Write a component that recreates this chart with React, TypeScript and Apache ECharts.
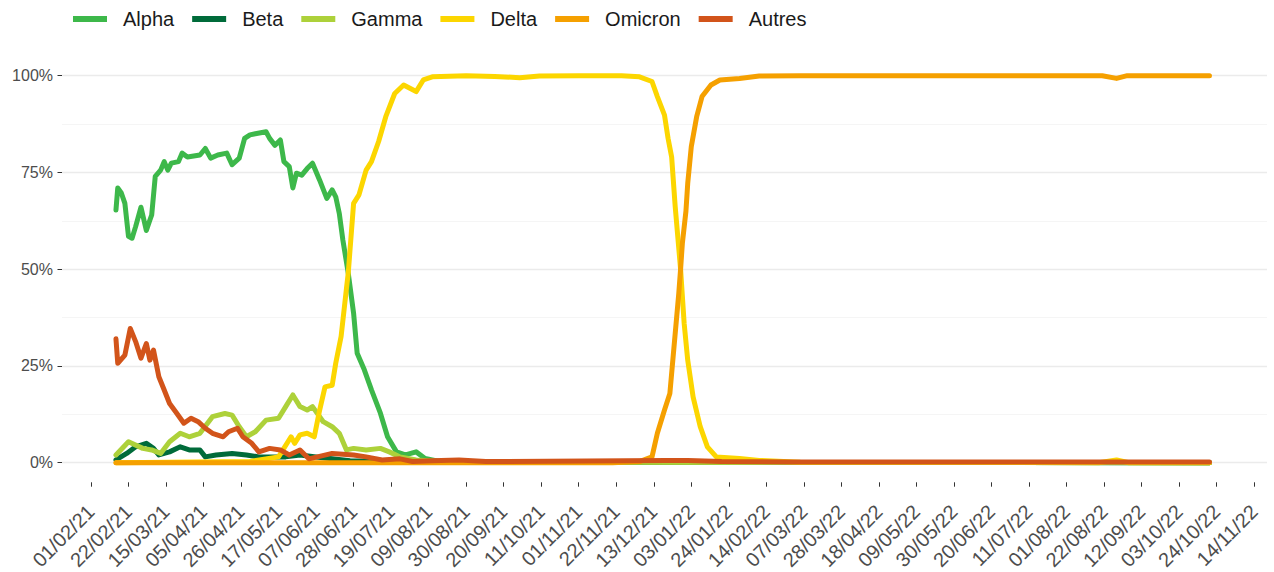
import React, { useEffect, useRef } from "react";
import * as echarts from "echarts";

// ---------- data ----------
const seriesNames = ["Alpha", "Beta", "Gamma", "Delta", "Omicron", "Autres"];
const seriesColors = ["#3DB84A", "#006B3A", "#ADD13A", "#FCD600", "#F5A000", "#D2541A"];

const tickLabels = [
  "01/02/21", "22/02/21", "15/03/21", "05/04/21", "26/04/21", "17/05/21", "07/06/21", "28/06/21",
  "19/07/21", "09/08/21", "30/08/21", "20/09/21", "11/10/21", "01/11/21", "22/11/21", "13/12/21",
  "03/01/22", "24/01/22", "14/02/22", "07/03/22", "28/03/22", "18/04/22", "09/05/22", "30/05/22",
  "20/06/22", "11/07/22", "01/08/22", "22/08/22", "12/09/22", "03/10/22", "24/10/22", "14/11/22",
];

const yTickValues = [0, 25, 50, 75, 100];

const alpha: [string, number][] = [
  ["2021-02-15", 65.3], ["2021-02-16", 71], ["2021-02-18", 69.7], ["2021-02-20", 67], ["2021-02-22", 58.5],
  ["2021-02-24", 58], ["2021-02-26", 61], ["2021-03-01", 66], ["2021-03-04", 60], ["2021-03-06", 62.7],
  ["2021-03-07", 64], ["2021-03-09", 74], ["2021-03-12", 75.6], ["2021-03-14", 77.8], ["2021-03-16", 75.6],
  ["2021-03-18", 77.4], ["2021-03-22", 77.8], ["2021-03-24", 80], ["2021-03-27", 79], ["2021-04-03", 79.5],
  ["2021-04-06", 81.2], ["2021-04-09", 78.7], ["2021-04-13", 79.5], ["2021-04-18", 80], ["2021-04-21", 77],
  ["2021-04-25", 78.7], ["2021-04-28", 83.8], ["2021-05-01", 84.7], ["2021-05-04", 85], ["2021-05-10", 85.5],
  ["2021-05-12", 83.8], ["2021-05-15", 82], ["2021-05-18", 83.4], ["2021-05-20", 77.8], ["2021-05-23", 76.5],
  ["2021-05-25", 71], ["2021-05-27", 74.8], ["2021-05-30", 74.3], ["2021-06-02", 76], ["2021-06-05", 77.4],
  ["2021-06-09", 73], ["2021-06-13", 68.3], ["2021-06-16", 70.5], ["2021-06-18", 68.7], ["2021-06-20", 64.4],
  ["2021-06-22", 57.5], ["2021-06-25", 49], ["2021-06-28", 38.6], ["2021-06-30", 28.3], ["2021-07-04", 24],
  ["2021-07-08", 18.8], ["2021-07-13", 12.8], ["2021-07-17", 6.7], ["2021-07-22", 2.8], ["2021-07-27", 2],
  ["2021-08-02", 2.8], ["2021-08-07", 1.1], ["2021-08-15", 0.3], ["2021-09-15", 0.1], ["2022-10-20", 0],
];

const beta: [string, number][] = [
  ["2021-02-15", 0.7], ["2021-02-21", 2.4], ["2021-02-26", 4.1], ["2021-03-04", 5], ["2021-03-08", 3.7],
  ["2021-03-11", 2], ["2021-03-17", 2.8], ["2021-03-23", 4.1], ["2021-03-28", 3.3], ["2021-04-03", 3.3],
  ["2021-04-06", 1.5], ["2021-04-12", 2], ["2021-04-21", 2.4], ["2021-04-29", 2], ["2021-05-06", 1.5],
  ["2021-05-21", 1.5], ["2021-05-29", 2], ["2021-06-07", 1.5], ["2021-06-16", 1], ["2021-06-26", 0.5],
  ["2021-07-13", 0.3], ["2021-08-03", 0.1], ["2022-10-20", 0],
];

const gamma: [string, number][] = [
  ["2021-02-15", 2], ["2021-02-22", 5.4], ["2021-03-02", 3.7], ["2021-03-07", 3.3], ["2021-03-12", 2.4],
  ["2021-03-17", 5.4], ["2021-03-23", 7.6], ["2021-03-28", 6.7], ["2021-04-03", 7.6], ["2021-04-10", 11.9],
  ["2021-04-17", 12.7], ["2021-04-21", 12.3], ["2021-04-25", 9.3], ["2021-04-29", 6.7], ["2021-05-04", 8],
  ["2021-05-10", 11], ["2021-05-17", 11.5], ["2021-05-21", 14.5], ["2021-05-25", 17.5], ["2021-05-29", 14.5],
  ["2021-06-02", 13.6], ["2021-06-05", 14.5], ["2021-06-11", 10.6], ["2021-06-16", 9.3], ["2021-06-20", 7.6],
  ["2021-06-24", 3.3], ["2021-06-28", 3.7], ["2021-07-05", 3.3], ["2021-07-13", 3.7], ["2021-07-18", 2.8],
  ["2021-07-24", 1.5], ["2021-08-02", 0.7], ["2021-08-15", 0.3], ["2021-10-01", 0.1], ["2022-10-20", 0],
];

const delta: [string, number][] = [
  ["2021-02-15", 0], ["2021-05-01", 0.3], ["2021-05-17", 1.5], ["2021-05-24", 6.7], ["2021-05-26", 5],
  ["2021-05-29", 7.2], ["2021-06-02", 7.6], ["2021-06-06", 6.7], ["2021-06-09", 13.6], ["2021-06-12", 19.6],
  ["2021-06-16", 20], ["2021-06-18", 25.7], ["2021-06-21", 32.6], ["2021-06-24", 45], ["2021-06-25", 49],
  ["2021-06-28", 67], ["2021-07-01", 69.2], ["2021-07-05", 75.6], ["2021-07-08", 77.8], ["2021-07-12", 83],
  ["2021-07-16", 89.4], ["2021-07-21", 95.4], ["2021-07-26", 97.6], ["2021-08-02", 95.9], ["2021-08-06", 98.9],
  ["2021-08-11", 99.7], ["2021-08-30", 100], ["2021-09-15", 99.8], ["2021-09-29", 99.5], ["2021-10-10", 99.9],
  ["2021-11-01", 100], ["2021-11-25", 100], ["2021-12-05", 99.7], ["2021-12-12", 98.5], ["2021-12-15", 94.6],
  ["2021-12-19", 89.8], ["2021-12-21", 83.8], ["2021-12-23", 79], ["2021-12-25", 66.1], ["2021-12-28", 50],
  ["2021-12-30", 36], ["2022-01-01", 26.5], ["2022-01-04", 17], ["2022-01-08", 9.3], ["2022-01-12", 4.1],
  ["2022-01-17", 1.5], ["2022-01-30", 1.1], ["2022-02-10", 0.6], ["2022-03-05", 0.1], ["2022-08-19", 0],
  ["2022-08-29", 0.7], ["2022-09-05", 0], ["2022-10-20", 0],
];

const omicron: [string, number][] = [
  ["2021-02-15", 0], ["2021-11-20", 0], ["2021-12-05", 0.3], ["2021-12-12", 1.5], ["2021-12-15", 7.6],
  ["2021-12-19", 13.6], ["2021-12-22", 17.9], ["2021-12-24", 28.3], ["2021-12-27", 43.8], ["2021-12-28", 50],
  ["2021-12-29", 56.7], ["2021-12-31", 65], ["2022-01-01", 72.2], ["2022-01-03", 81.7], ["2022-01-06", 89.4],
  ["2022-01-09", 94.6], ["2022-01-14", 97.6], ["2022-01-19", 98.9], ["2022-01-30", 99.3], ["2022-02-10", 99.9],
  ["2022-03-05", 100], ["2022-08-21", 100], ["2022-08-29", 99.3], ["2022-09-04", 100], ["2022-10-20", 100],
];

const autres: [string, number][] = [
  ["2021-02-15", 32], ["2021-02-16", 25.7], ["2021-02-20", 27.8], ["2021-02-23", 34.7], ["2021-02-26", 31.3],
  ["2021-03-01", 27], ["2021-03-04", 30.8], ["2021-03-06", 26.5], ["2021-03-08", 29.1], ["2021-03-11", 22.2],
  ["2021-03-14", 18.8], ["2021-03-17", 15.3], ["2021-03-21", 12.8], ["2021-03-25", 10.2], ["2021-03-29", 11.5],
  ["2021-04-02", 10.6], ["2021-04-06", 8.9], ["2021-04-10", 7.6], ["2021-04-16", 6.7], ["2021-04-19", 8],
  ["2021-04-24", 8.9], ["2021-04-27", 6.7], ["2021-05-02", 5], ["2021-05-06", 2.8], ["2021-05-12", 3.7],
  ["2021-05-18", 3.3], ["2021-05-23", 2], ["2021-05-29", 3.3], ["2021-06-03", 1], ["2021-06-16", 2.4],
  ["2021-06-28", 2], ["2021-07-05", 1.5], ["2021-07-14", 0.7], ["2021-07-24", 1], ["2021-07-31", 0.3],
  ["2021-08-11", 0.5], ["2021-08-26", 0.7], ["2021-09-10", 0.3], ["2021-12-20", 0.6], ["2022-01-01", 0.6],
  ["2022-01-20", 0.3], ["2022-03-01", 0.2], ["2022-10-20", 0.2],
];

const seriesData = [alpha, beta, gamma, delta, omicron, autres];

// ---------- helpers ----------
const BASE = Date.UTC(2021, 1, 1);
const isoToDay = (s: string) => {
  const [y, m, d] = s.split("-").map(Number);
  return (Date.UTC(y, m - 1, d) - BASE) / 86400000;
};
const labelToDay = (s: string) => {
  const [d, m, y] = s.split("/").map(Number);
  return (Date.UTC(2000 + y, m - 1, d) - BASE) / 86400000;
};
const tickDays = tickLabels.map(labelToDay);

const FONT = "'Liberation Sans', Arial, Helvetica, sans-serif";

export default function App() {
  const ref = useRef<HTMLDivElement>(null);

  useEffect(() => {
    if (!ref.current) return;
    const chart = echarts.init(ref.current, null, { renderer: "svg" });
    const labelMap = new Map<number, string>();
    tickDays.forEach((d, i) => labelMap.set(Math.round(d), tickLabels[i]));

    chart.setOption({
      animation: false,
      backgroundColor: "#ffffff",
      textStyle: { fontFamily: FONT },
      legend: {
        show: true,
        left: 68,
        top: 4,
        icon: "rect",
        itemWidth: 34,
        itemHeight: 6,
        itemGap: 18,
        data: seriesNames,
        textStyle: { fontSize: 20, color: "#1a1a1a", fontFamily: FONT, padding: [0, 0, 0, 11] },
      },
      grid: { left: 62, right: 7, top: 75.7, bottom: 109.3, outerBoundsMode: "none", containLabel: false },
      xAxis: {
        type: "value",
        min: -16.2,
        max: 658.2,
        offset: 19.6,
        axisLine: { show: false, onZero: false },
        splitLine: { show: false },
        axisTick: {
          show: true,
          customValues: tickDays,
          length: 4.4,
          lineStyle: { color: "#333333", width: 1 },
        },
        axisLabel: {
          show: true,
          customValues: tickDays,
          rotate: 45,
          margin: 26,
          fontSize: 20,
          color: "#4d4d4d",
          fontFamily: FONT,
          formatter: (v: number) => labelMap.get(Math.round(v)) ?? "",
        },
      },
      yAxis: {
        type: "value",
        min: 0,
        max: 100,
        interval: 25,
        axisLine: { show: false, onZero: false },
        axisTick: { show: true, length: 4.5, lineStyle: { color: "#333333", width: 1 } },
        axisLabel: {
          customValues: yTickValues,
          formatter: (v: number) => `${v}%`,
          fontSize: 16,
          color: "#4d4d4d",
          margin: 9,
          fontFamily: FONT,
        },
        splitLine: { show: true, lineStyle: { color: "#ebebeb", width: 1.4 } },
        minorTick: { show: false, splitNumber: 2 },
        minorSplitLine: { show: true, lineStyle: { color: "#f3f3f3", width: 0.8 } },
      },
      series: seriesNames.map((name, i) => ({
        name,
        type: "line",
        data: seriesData[i].map(([d, v]) => [isoToDay(d), v]),
        showSymbol: false,
        symbol: "none",
        clip: false,
        color: seriesColors[i],
        lineStyle: { width: 5, color: seriesColors[i], join: "round", cap: "round" },
        emphasis: { disabled: true },
        z: 2 + i,
      })),
    });

    return () => chart.dispose();
  }, []);

  return (
    <div
      ref={ref}
      style={{ position: "fixed", left: 0, top: 0, width: 1274, height: 572 }}
    />
  );
}
